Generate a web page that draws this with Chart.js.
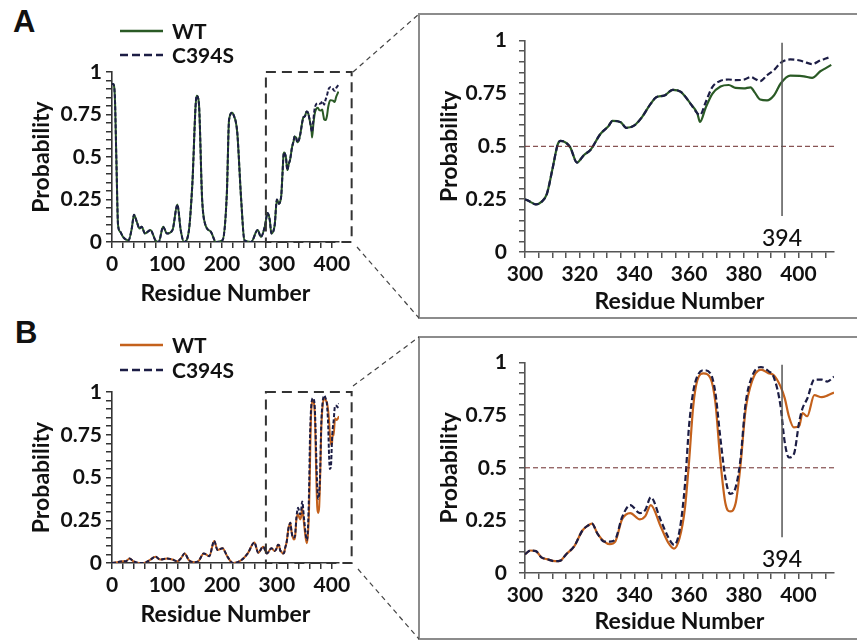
<!DOCTYPE html>
<html>
<head>
<meta charset="utf-8">
<script src="https://cdn.jsdelivr.net/npm/chart.js@4.4.0/dist/chart.umd.min.js"></script>
<style>
  body { margin: 0; background: #fff; }
  #fig { position: relative; width: 857px; height: 641px; overflow: hidden; }
  #fig canvas, #fig svg { position: absolute; }
  .letter { position: absolute; font: bold 31px "Liberation Sans", Arial, sans-serif; color: #111; }
</style>
</head>
<body>
<div id="fig">
  <svg width="857" height="641" style="left:0;top:0">
    <rect x="419" y="14" width="460" height="304" fill="none" stroke="#8c8c8c" stroke-width="2"/>
    <rect x="419" y="337" width="460" height="302" fill="none" stroke="#8c8c8c" stroke-width="2"/>
    <g stroke="#444" stroke-width="1.2" stroke-dasharray="5 4">
      <line x1="353" y1="72" x2="419" y2="14"/>
      <line x1="357" y1="247" x2="419" y2="318"/>
      <line x1="353" y1="386" x2="419" y2="337"/>
      <line x1="358" y1="569" x2="419" y2="639"/>
    </g>
  </svg>
  <div class="letter" style="left:13px;top:4px">A</div>
  <div class="letter" style="left:15px;top:315px">B</div>
  <canvas id="leftA" width="400" height="310" style="left:0;top:0"></canvas>
  <canvas id="rightA" width="437" height="300" style="left:420px;top:16px"></canvas>
  <canvas id="leftB" width="400" height="310" style="left:0;top:320px"></canvas>
  <canvas id="rightB" width="437" height="300" style="left:420px;top:338px"></canvas>
</div>
<script>
// ---- panel A: residues 0-299, WT and C394S identical there
const residuesLowA = [0, 2, 5, 8, 11, 15, 20, 30, 36, 40, 45, 50, 54, 60, 70, 79, 85, 93, 100, 110, 119, 125, 131, 140, 146, 154, 158, 164, 170, 180, 189, 201, 209, 213, 219, 222, 225, 228, 235, 241, 253, 265, 271, 278, 283, 287, 290, 296]
const probLowA = [0.93, 0.93, 0.87, 0.48, 0.10, 0.06, 0.03, 0.01, 0.08, 0.16, 0.12, 0.08, 0.09, 0.05, 0.07, 0.01, 0.0, 0.09, 0.05, 0.07, 0.22, 0.07, 0.0, 0.07, 0.33, 0.86, 0.82, 0.25, 0.10, 0.06, 0.0, 0.01, 0.29, 0.72, 0.76, 0.74, 0.71, 0.64, 0.25, 0.01, 0.0, 0.07, 0.03, 0.09, 0.17, 0.13, 0.05, 0.10]

// ---- panel A: residues 300-412 (zoomed region)
const residuesZoomA = [300, 302, 304, 306, 308, 310, 312, 313, 316.5, 319, 321.5, 324, 327.5, 330.5, 332, 335, 337, 340, 342.5, 346, 348, 351, 354, 357, 360.5, 363, 364, 366, 368.5, 371.5, 374.5, 377, 380, 382.5, 384, 386, 388.5, 391, 393.5, 397, 400.5, 402, 405, 408, 410, 412]
const wtZoomA = [0.25, 0.237, 0.225, 0.237, 0.275, 0.39, 0.51, 0.526, 0.496, 0.423, 0.458, 0.484, 0.557, 0.595, 0.62, 0.614, 0.587, 0.599, 0.633, 0.702, 0.732, 0.74, 0.767, 0.757, 0.702, 0.656, 0.615, 0.68, 0.748, 0.783, 0.79, 0.776, 0.774, 0.779, 0.755, 0.721, 0.717, 0.74, 0.797, 0.834, 0.833, 0.831, 0.824, 0.855, 0.87, 0.885]
const c394sZoomA = [0.25, 0.237, 0.225, 0.237, 0.275, 0.39, 0.51, 0.526, 0.496, 0.423, 0.458, 0.484, 0.557, 0.595, 0.62, 0.614, 0.587, 0.599, 0.633, 0.702, 0.732, 0.74, 0.767, 0.757, 0.702, 0.656, 0.648, 0.706, 0.78, 0.81, 0.816, 0.813, 0.815, 0.828, 0.82, 0.808, 0.836, 0.86, 0.895, 0.911, 0.906, 0.9, 0.889, 0.906, 0.915, 0.924]

// ---- panel B: residues 0-299
const residuesLowB = [0, 10, 20, 25, 32, 39, 50, 58, 70, 79, 88, 100, 110, 119, 126, 132, 140, 150, 157, 167, 177, 186, 192, 201, 210, 220, 235, 247, 259, 266, 275, 282, 290, 296]
const probLowB = [0.0, 0.005, 0.01, 0.01, 0.027, 0.01, 0.0, 0.0, 0.02, 0.037, 0.02, 0.027, 0.02, 0.01, 0.03, 0.056, 0.016, 0.005, 0.01, 0.056, 0.04, 0.129, 0.076, 0.086, 0.037, 0.0, 0.016, 0.056, 0.12, 0.06, 0.095, 0.056, 0.086, 0.07]

// ---- panel B: residues 300-413
const residuesZoomB = [300, 302, 304, 306, 308, 311, 313, 315, 318, 321, 323, 324.5, 326.5, 329, 331, 333, 335.5, 338.5, 342, 344, 346, 349.5, 352.5, 354.5, 356.5, 358.5, 360, 361.5, 363, 365.3, 367.8, 369.6, 371.4, 373.3, 375, 377, 378.8, 380.6, 383, 386.3, 389, 391, 393.4, 395, 396.5, 398.3, 400.3, 401.5, 403.2, 405.8, 408.5, 410.5, 413]
const wtZoomB = [0.089, 0.107, 0.104, 0.074, 0.066, 0.056, 0.059, 0.088, 0.127, 0.202, 0.225, 0.235, 0.187, 0.149, 0.137, 0.149, 0.255, 0.285, 0.255, 0.27, 0.323, 0.225, 0.142, 0.116, 0.165, 0.31, 0.53, 0.79, 0.915, 0.949, 0.927, 0.813, 0.54, 0.33, 0.293, 0.33, 0.511, 0.768, 0.911, 0.967, 0.95, 0.94, 0.888, 0.83, 0.745, 0.692, 0.70, 0.76, 0.745, 0.845, 0.836, 0.843, 0.858]
const c394sZoomB = [0.089, 0.107, 0.104, 0.074, 0.066, 0.056, 0.059, 0.088, 0.127, 0.202, 0.225, 0.235, 0.187, 0.149, 0.149, 0.16, 0.265, 0.323, 0.285, 0.3, 0.36, 0.255, 0.167, 0.134, 0.2, 0.42, 0.70, 0.86, 0.935, 0.964, 0.949, 0.858, 0.647, 0.451, 0.376, 0.406, 0.54, 0.798, 0.933, 0.979, 0.96, 0.93, 0.798, 0.62, 0.549, 0.564, 0.72, 0.783, 0.828, 0.919, 0.919, 0.91, 0.933]

const seriesNames = ['WT', 'C394S']
const wtColorA = '#2a5a25'
const wtColorB = '#c4611c'
const mutColor = '#1c1d45'
const threshold = 0.5
const mutResidue = 394

const FONT = 'Lato, "Open Sans", sans-serif'

const toPoints = (xs, ys) => xs.map((x, i) => ({ x: x, y: ys[i] }))

// legend drawn as two stacked rows above the overview plots
const stackLegend = {
  id: 'stackLegend',
  afterDraw(chart, args, opts) {
    const ctx = chart.ctx
    ctx.save()
    chart.data.datasets.forEach((ds, i) => {
      const y = opts.y[i]
      ctx.strokeStyle = ds.borderColor
      ctx.lineWidth = 2.5
      ctx.setLineDash(ds.borderDash ? [8, 4] : [])
      ctx.beginPath()
      ctx.moveTo(opts.x, y)
      ctx.lineTo(opts.x + 43, y)
      ctx.stroke()
      ctx.setLineDash([])
      ctx.fillStyle = '#111'
      ctx.font = 'bold 21px ' + FONT
      ctx.textBaseline = 'middle'
      ctx.fillText(ds.label, opts.x + 52, y + 1)
    })
    ctx.restore()
  }
}

// dashed box marking the zoomed region
const zoomBox = {
  id: 'zoomBox',
  afterDraw(chart, args, opts) {
    const { x, y } = chart.scales
    const ctx = chart.ctx
    const l = x.getPixelForValue(opts.from), r = x.getPixelForValue(opts.to)
    const t = y.getPixelForValue(1), b = y.getPixelForValue(0)
    ctx.save()
    ctx.strokeStyle = '#333'
    ctx.lineWidth = 2
    ctx.setLineDash([10, 6])
    ctx.strokeRect(l, t, r - l, b - t)
    ctx.restore()
  }
}

// 0.5 threshold and residue 394 marker
const markers = {
  id: 'markers',
  afterDatasetsDraw(chart, args, opts) {
    const { x, y } = chart.scales
    const ctx = chart.ctx
    const area = chart.chartArea
    ctx.save()
    ctx.strokeStyle = '#6b2a2a'
    ctx.lineWidth = 1
    ctx.setLineDash([5, 3])
    const ty = y.getPixelForValue(threshold)
    ctx.beginPath()
    ctx.moveTo(area.left, ty)
    ctx.lineTo(area.right, ty)
    ctx.stroke()
    ctx.setLineDash([])
    const mx = x.getPixelForValue(mutResidue)
    ctx.strokeStyle = '#555'
    ctx.lineWidth = 1.5
    ctx.beginPath()
    ctx.moveTo(mx, y.getPixelForValue(0.99))
    ctx.lineTo(mx, y.getPixelForValue(0.17))
    ctx.stroke()
    ctx.fillStyle = '#111'
    ctx.font = '500 23px ' + FONT
    ctx.textAlign = 'center'
    ctx.textBaseline = 'middle'
    ctx.fillText(String(mutResidue), mx, y.getPixelForValue(0.065))
    ctx.restore()
  }
}

function makeChart(id, p) {
  const datasets = [
    {
      label: seriesNames[0], data: p.wt, borderColor: p.wtColor, borderWidth: p.lw,
      pointRadius: 0, cubicInterpolationMode: 'monotone', order: 1
    },
    {
      label: seriesNames[1], data: p.mut, borderColor: mutColor, borderWidth: p.lw,
      borderDash: p.dash, pointRadius: 0, cubicInterpolationMode: 'monotone', order: 0
    }
  ]
  const tickFont = { family: FONT, size: 21, weight: 'bold' }
  const titleFont = { family: FONT, size: 23, weight: 'bold' }
  const grid = { drawOnChartArea: false, drawTicks: true, tickLength: 6, color: p.axisColor, lineWidth: 1.5 }
  return new Chart(document.getElementById(id), {
    type: 'line',
    data: { datasets: datasets },
    plugins: p.plugins,
    options: {
      responsive: false,
      animation: false,
      devicePixelRatio: 1,
      layout: { padding: p.pad },
      plugins: {
        legend: { display: false },
        tooltip: { enabled: false },
        stackLegend: p.legend,
        zoomBox: p.zoom
      },
      scales: {
        x: {
          type: 'linear', min: p.xmin, max: p.xmax,
          border: { display: true, color: p.axisColor, width: 1.6 },
          grid: grid,
          ticks: {
            stepSize: p.xstep, autoSkip: false, maxRotation: 0, includeBounds: false,
            padding: 4, color: '#111', font: tickFont,
            callback: v => (v % p.xlabel === 0 ? String(v) : ' ')
          },
          title: { display: true, text: 'Residue Number', color: '#111', font: titleFont, padding: { top: 0, bottom: p.xtitlePad } },
          afterFit: s => { s.height = p.xh }
        },
        y: {
          type: 'linear', min: 0, max: 1,
          border: { display: true, color: p.axisColor, width: 1.6 },
          grid: grid,
          ticks: {
            stepSize: 0.05, autoSkip: false, padding: p.ytickPad, color: '#111', font: tickFont,
            callback: v => (Math.round(v * 100) % 25 === 0 ? String(+v.toFixed(2)) : ' ')
          },
          title: { display: true, text: 'Probability', color: '#111', font: titleFont, padding: { top: p.ytitlePad, bottom: 0 } },
          afterFit: s => { s.width = p.yw }
        }
      }
    }
  })
}

const leftBase = {
  xmin: 0, xmax: 413, xstep: 20, xlabel: 100, lw: 2, dash: [4, 2],
  axisColor: '#333', ytickPad: 4, ytitlePad: 28, yw: 112,
  plugins: [stackLegend, zoomBox], zoom: { from: 280, to: 436 }
}
const rightBase = {
  xmin: 300, xmax: 413, xstep: 5, xlabel: 20, lw: 2.2, dash: [6, 3],
  axisColor: '#555', ytickPad: 12, ytitlePad: 16, yw: 105,
  plugins: [markers]
}

makeChart('leftA', Object.assign({}, leftBase, {
  wt: toPoints(residuesLowA.concat(residuesZoomA), probLowA.concat(wtZoomA)),
  mut: toPoints(residuesLowA.concat(residuesZoomA), probLowA.concat(c394sZoomA)),
  wtColor: wtColorA, pad: { top: 72, right: 61, bottom: 0, left: 0 }, xh: 68, xtitlePad: 3,
  legend: { x: 120, y: [31, 55] }
}))
makeChart('leftB', Object.assign({}, leftBase, {
  wt: toPoints(residuesLowB.concat(residuesZoomB), probLowB.concat(wtZoomB)),
  mut: toPoints(residuesLowB.concat(residuesZoomB), probLowB.concat(c394sZoomB)),
  wtColor: wtColorB, pad: { top: 72, right: 61, bottom: 0, left: 0 }, xh: 67, xtitlePad: 2,
  legend: { x: 120, y: [25, 50] }
}))
makeChart('rightA', Object.assign({}, rightBase, {
  wt: toPoints(residuesZoomA, wtZoomA), mut: toPoints(residuesZoomA, c394sZoomA),
  wtColor: wtColorA, pad: { top: 17, right: 23, bottom: 0, left: 0 }, xh: 64, xtitlePad: 1
}))
makeChart('rightB', Object.assign({}, rightBase, {
  wt: toPoints(residuesZoomB, wtZoomB), mut: toPoints(residuesZoomB, c394sZoomB),
  wtColor: wtColorB, pad: { top: 14, right: 23, bottom: 0, left: 0 }, xh: 65, xtitlePad: 3
}))
</script>
</body>
</html>
